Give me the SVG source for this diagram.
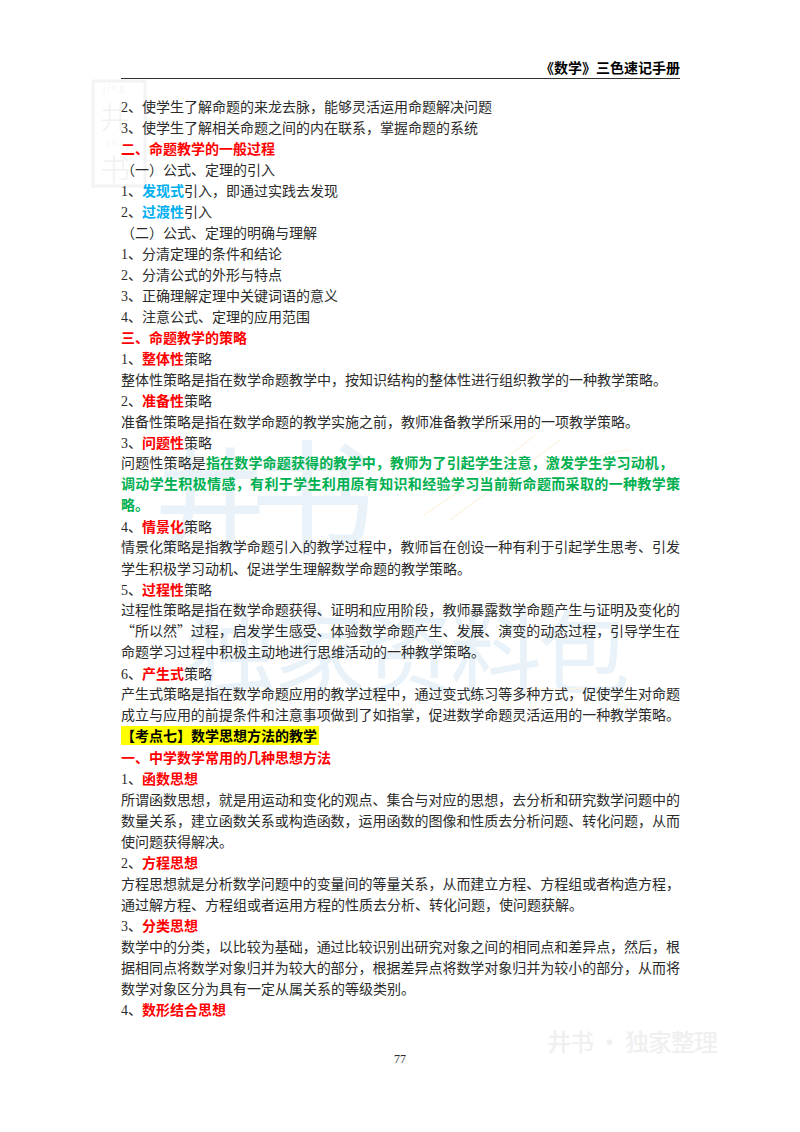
<svg xmlns="http://www.w3.org/2000/svg" width="800" height="1132" viewBox="0 0 800 1132">
<style>
text{font-family:"Liberation Serif","Noto Sans CJK SC",sans-serif;font-size:14px;fill:#2b2b2b}
.r{fill:#ff0000;font-weight:700}
.c{fill:#00b0f0;font-weight:700}
.g{fill:#00b050;font-weight:700}
.k{fill:#000;font-weight:700}
.q{font-family:"Noto Sans CJK SC",sans-serif}
.wm{font-family:"Noto Sans CJK SC",sans-serif;fill:#e8f2f8;font-weight:400}
.logo{font-family:"Noto Sans CJK SC",sans-serif;fill:#f1f1f1;font-weight:300}
.s{fill:none;stroke:#fdf4e6;stroke-width:1.5}
</style>
<rect width="800" height="1132" fill="#fff"/>
<g id="watermarks">
<text class="wm" x="154" y="542" style="font-size:112px">井</text>
<text class="wm" x="250" y="545" style="font-size:125px">书</text>
<text class="wm" x="185" y="687" textLength="445" style="font-size:92px">独家资料包</text>
<path class="s" d="M424 515C460 490 500 465 535 435M450 520C490 490 520 470 560 440M499 692C530 688 560 690 586 688M560 470C590 460 610 450 630 450"/>
<rect x="93" y="81" width="52" height="105" fill="none" stroke="#f3f3f3" stroke-width="3"/>
<text class="logo" x="103" y="91" style="font-size:9px;letter-spacing:2px">jing</text>
<text class="logo" x="100" y="128" style="font-size:30px">井</text>
<text class="logo" x="106" y="146" style="font-size:9px;letter-spacing:2px">shu</text>
<text class="logo" x="100" y="180" style="font-size:30px">书</text>
<text x="547" y="1051" textLength="171" style="font-family:'Noto Sans CJK SC',sans-serif;font-size:24px;fill:#f0f0f0;font-weight:500">井书 · 独家整理</text>
</g>
<g id="header">
<text class="k" x="680" y="73" text-anchor="end">《数学》三色速记手册</text>
<line x1="121" y1="78.5" x2="680" y2="78.5" stroke="#333" stroke-width="1"/>
</g>
<g id="body">
<text x="121" y="112">2、使学生了解命题的来龙去脉，能够灵活运用命题解决问题</text>
<text x="121" y="133">3、使学生了解相关命题之间的内在联系，掌握命题的系统</text>
<text class="r" x="121" y="154">二、命题教学的一般过程</text>
<text x="121" y="175">（一）公式、定理的引入</text>
<text x="121" y="196">1、<tspan class="c">发现式</tspan>引入，即通过实践去发现</text>
<text x="121" y="217">2、<tspan class="c">过渡性</tspan>引入</text>
<text x="121" y="238">（二）公式、定理的明确与理解</text>
<text x="121" y="259">1、分清定理的条件和结论</text>
<text x="121" y="280">2、分清公式的外形与特点</text>
<text x="121" y="301">3、正确理解定理中关键词语的意义</text>
<text x="121" y="322">4、注意公式、定理的应用范围</text>
<text class="r" x="121" y="343">三、命题教学的策略</text>
<text x="121" y="364">1、<tspan class="r">整体性</tspan>策略</text>
<text x="121" y="385">整体性策略是指在数学命题教学中，按知识结构的整体性进行组织教学的一种教学策略。</text>
<text x="121" y="406">2、<tspan class="r">准备性</tspan>策略</text>
<text x="121" y="427">准备性策略是指在数学命题的教学实施之前，教师准备教学所采用的一项教学策略。</text>
<text x="121" y="448">3、<tspan class="r">问题性</tspan>策略</text>
<text x="121" y="468" textLength="552">问题性策略是<tspan class="g">指在数学命题获得的教学中，教师为了引起学生注意，激发学生学习动机，</tspan></text>
<text class="g" x="121" y="489" textLength="559">调动学生积极情感，有利于学生利用原有知识和经验学习当前新命题而采取的一种教学策</text>
<text class="g" x="121" y="510">略。</text>
<text x="121" y="532">4、<tspan class="r">情景化</tspan>策略</text>
<text x="121" y="552" textLength="559">情景化策略是指教学命题引入的教学过程中，教师旨在创设一种有利于引起学生思考、引发</text>
<text x="121" y="574">学生积极学习动机、促进学生理解数学命题的教学策略。</text>
<text x="121" y="595">5、<tspan class="r">过程性</tspan>策略</text>
<text x="121" y="615" textLength="559">过程性策略是指在数学命题获得、证明和应用阶段，教师暴露数学命题产生与证明及变化的</text>
<text class="q" x="121" y="636" textLength="559">“所以然”过程，启发学生感受、体验数学命题产生、发展、演变的动态过程，引导学生在</text>
<text x="121" y="657">命题学习过程中积极主动地进行思维活动的一种教学策略。</text>
<text x="121" y="679">6、<tspan class="r">产生式</tspan>策略</text>
<text x="121" y="699" textLength="559">产生式策略是指在数学命题应用的教学过程中，通过变式练习等多种方式，促使学生对命题</text>
<text x="121" y="720" textLength="559">成立与应用的前提条件和注意事项做到了如指掌，促进数学命题灵活运用的一种教学策略。</text>
<rect x="121" y="726" width="198" height="19" fill="#ffff00"/>
<text class="k" x="121" y="741">【考点七】数学思想方法的教学</text>
<text class="r" x="121" y="763">一、中学数学常用的几种思想方法</text>
<text x="121" y="784">1、<tspan class="r">函数思想</tspan></text>
<text x="121" y="805" textLength="559">所谓函数思想，就是用运动和变化的观点、集合与对应的思想，去分析和研究数学问题中的</text>
<text x="121" y="826" textLength="559">数量关系，建立函数关系或构造函数，运用函数的图像和性质去分析问题、转化问题，从而</text>
<text x="121" y="847">使问题获得解决。</text>
<text x="121" y="868">2、<tspan class="r">方程思想</tspan></text>
<text x="121" y="889" textLength="559">方程思想就是分析数学问题中的变量间的等量关系，从而建立方程、方程组或者构造方程，</text>
<text x="121" y="910">通过解方程、方程组或者运用方程的性质去分析、转化问题，使问题获解。</text>
<text x="121" y="931">3、<tspan class="r">分类思想</tspan></text>
<text x="121" y="952" textLength="559">数学中的分类，以比较为基础，通过比较识别出研究对象之间的相同点和差异点，然后，根</text>
<text x="121" y="973" textLength="559">据相同点将数学对象归并为较大的部分，根据差异点将数学对象归并为较小的部分，从而将</text>
<text x="121" y="994">数学对象区分为具有一定从属关系的等级类别。</text>
<text x="121" y="1015">4、<tspan class="r">数形结合思想</tspan></text>
</g>
<text id="page-number" x="400" y="1063" text-anchor="middle" style="font-size:12px">77</text>
</svg>
